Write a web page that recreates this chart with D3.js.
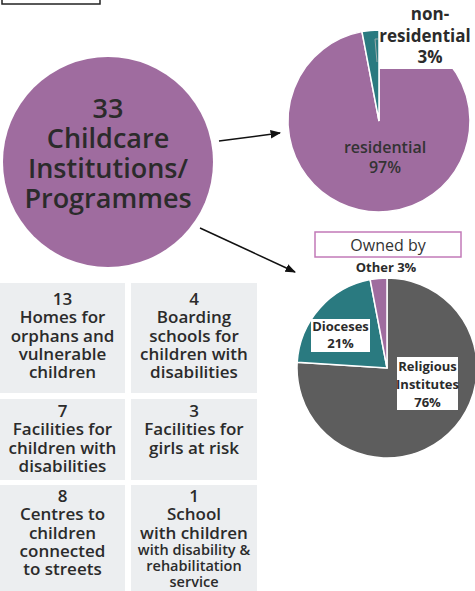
<!DOCTYPE html>
<html>
<head>
<meta charset="utf-8">
<script src="https://cdn.jsdelivr.net/npm/d3@7"></script>
<style>
  html, body { margin: 0; padding: 0; background: #fff; }
  svg { display: block; font-family: "Open Sans", sans-serif; }
</style>
</head>
<body>
<div id="chart"></div>
<script>
// data
var totalCount = 33;
var totalLines = ["33", "Childcare", "Institutions/", "Programmes"];

var typeLabels = ["residential", "non-residential"];
var typeValues = [97, 3];

var ownerLabels = ["Religious Institutes", "Dioceses", "Other"];
var ownerValues = [76, 21, 3];

var progCounts = [13, 4, 7, 3, 8, 1];
var progNames = [
  ["Homes for", "orphans and", "vulnerable", "children"],
  ["Boarding", "schools for", "children with", "disabilities"],
  ["Facilities for", "children with", "disabilities"],
  ["Facilities for", "girls at risk"],
  ["Centres to", "children", "connected", "to streets"],
  ["School", "with children", "with disability &", "rehabilitation", "service"]
];

var width = 475, height = 591;
var purple = "#9f6c9f", teal = "#2a7a80", grey = "#5d5d5d", ink = "#2b2b2b";

var svg = d3.select("#chart").append("svg")
    .attr("width", width)
    .attr("height", height);

svg.append("defs").append("marker")
    .attr("id", "arrow")
    .attr("viewBox", "0 0 10 10")
    .attr("refX", 9).attr("refY", 5)
    .attr("markerWidth", 7).attr("markerHeight", 7)
    .attr("orient", "auto")
    .append("path")
    .attr("d", "M0,1 L10,5 L0,9 z")
    .attr("fill", "#111");

// small title box cut off at top
svg.append("rect")
    .attr("x", 2).attr("y", -20)
    .attr("width", 98).attr("height", 24)
    .attr("fill", "#fff").attr("stroke", "#222").attr("stroke-width", 1.5);

// big circle
svg.append("circle")
    .attr("cx", 108).attr("cy", 162).attr("r", 105)
    .attr("fill", purple);

svg.append("text")
    .attr("text-anchor", "middle")
    .attr("fill", ink)
    .style("font-size", "27px").style("font-weight", 600)
    .selectAll("tspan")
    .data(totalLines)
    .enter().append("tspan")
    .attr("x", 108)
    .attr("y", function(d, i) { return 118 + i * 30; })
    .text(function(d) { return d; });

// arrows
svg.append("line")
    .attr("x1", 219).attr("y1", 141).attr("x2", 280).attr("y2", 133)
    .attr("stroke", "#111").attr("stroke-width", 1.5)
    .attr("marker-end", "url(#arrow)");
svg.append("line")
    .attr("x1", 200).attr("y1", 228).attr("x2", 295).attr("y2", 272)
    .attr("stroke", "#111").attr("stroke-width", 1.5)
    .attr("marker-end", "url(#arrow)");

var pie = d3.pie().sort(null).value(function(d) { return d; });

// residential pie
var typeColor = d3.scaleOrdinal().domain(typeLabels).range([purple, teal]);
var arc1 = d3.arc().innerRadius(0).outerRadius(91);
var p1 = svg.append("g").attr("transform", "translate(379,121)");
p1.selectAll("path")
    .data(pie(typeValues))
    .enter().append("path")
    .attr("d", arc1)
    .attr("fill", function(d, i) { return typeColor(typeLabels[i]); })
    .attr("stroke", "#fff").attr("stroke-width", 1.5);

svg.append("path")
    .attr("d", "M378,39 L375,39 L377,62")
    .attr("fill", "none").attr("stroke", "#9aa").attr("stroke-width", 1);

svg.append("rect")
    .attr("x", 379).attr("y", 0).attr("width", 96).attr("height", 69)
    .attr("fill", "#fff");

svg.append("text")
    .attr("text-anchor", "middle").attr("fill", ink)
    .style("font-size", "17px").style("font-weight", 700)
    .selectAll("tspan")
    .data(["non-", "residential", typeValues[1] + "%"])
    .enter().append("tspan")
    .attr("x", function(d, i) { return i == 1 ? 425 : 430; })
    .attr("y", function(d, i) { return 20 + i * 21.5; })
    .text(function(d) { return d; });

svg.append("text")
    .attr("text-anchor", "middle").attr("fill", "#333")
    .style("font-size", "16px").style("font-weight", 600)
    .selectAll("tspan")
    .data([typeLabels[0], typeValues[0] + "%"])
    .enter().append("tspan")
    .attr("x", 385)
    .attr("y", function(d, i) { return 153 + i * 20; })
    .text(function(d) { return d; });

// owned by box
svg.append("rect")
    .attr("x", 315).attr("y", 232).attr("width", 146).attr("height", 25)
    .attr("fill", "#fff").attr("stroke", "#c27ab8").attr("stroke-width", 1.5);
svg.append("text")
    .attr("x", 388).attr("y", 251)
    .attr("text-anchor", "middle").attr("fill", "#333")
    .style("font-size", "16px")
    .text("Owned by");

// ownership pie
var ownerColor = d3.scaleOrdinal().domain(ownerLabels).range([grey, teal, purple]);
var arc2 = d3.arc().innerRadius(0).outerRadius(90);
var p2 = svg.append("g").attr("transform", "translate(387,368)");
p2.selectAll("path")
    .data(pie(ownerValues))
    .enter().append("path")
    .attr("d", arc2)
    .attr("fill", function(d, i) { return ownerColor(ownerLabels[i]); })
    .attr("stroke", "#fff").attr("stroke-width", 1.5);

svg.append("text")
    .attr("x", 386).attr("y", 272)
    .attr("text-anchor", "middle").attr("fill", ink)
    .style("font-size", "13px").style("font-weight", 700)
    .text(ownerLabels[2] + " " + ownerValues[2] + "%");

svg.append("rect")
    .attr("x", 311).attr("y", 319).attr("width", 59).attr("height", 33)
    .attr("fill", "#fff");
svg.append("text")
    .attr("text-anchor", "middle").attr("fill", ink)
    .style("font-size", "13px").style("font-weight", 700)
    .selectAll("tspan")
    .data([ownerLabels[1], ownerValues[1] + "%"])
    .enter().append("tspan")
    .attr("x", 340.5)
    .attr("y", function(d, i) { return 331 + i * 17; })
    .text(function(d) { return d; });

svg.append("rect")
    .attr("x", 397).attr("y", 357).attr("width", 61).attr("height", 53)
    .attr("fill", "#fff");
svg.append("text")
    .attr("text-anchor", "middle").attr("fill", ink)
    .style("font-size", "13px").style("font-weight", 700)
    .selectAll("tspan")
    .data(ownerLabels[0].split(" ").concat([ownerValues[0] + "%"]))
    .enter().append("tspan")
    .attr("x", 427.5)
    .attr("y", function(d, i) { return 371 + i * 18; })
    .text(function(d) { return d; });

// programme boxes
var cols = [{x: 0, w: 125}, {x: 131, w: 126}];
var rows = [{y: 283, h: 110, base: 305}, {y: 399, h: 81, base: 417}, {y: 485, h: 110, base: 502}];

var boxes = svg.selectAll("g.prog")
    .data(progCounts)
    .enter().append("g")
    .attr("class", "prog");

boxes.append("rect")
    .attr("x", function(d, i) { return cols[i % 2].x; })
    .attr("y", function(d, i) { return rows[Math.floor(i / 2)].y; })
    .attr("width", function(d, i) { return cols[i % 2].w; })
    .attr("height", function(d, i) { return rows[Math.floor(i / 2)].h; })
    .attr("fill", "#eceef0");

boxes.append("text")
    .attr("text-anchor", "middle").attr("fill", ink)
    .style("font-weight", 600)
    .each(function(d, i) {
        var cx = cols[i % 2].x + cols[i % 2].w / 2;
        var base = rows[Math.floor(i / 2)].base;
        var lines = [String(d)].concat(progNames[i]);
        var y = base;
        d3.select(this).selectAll("tspan")
            .data(lines)
            .enter().append("tspan")
            .attr("x", cx)
            .attr("y", function(l, j) {
                if (j == 0) return base;
                var small = (i == 5 && j > 2);
                y += small ? 16 : 18.3;
                return y;
            })
            .style("font-size", function(l, j) { return (i == 5 && j > 2) ? "14.5px" : "17px"; })
            .text(function(l) { return l; });
    });
</script>
</body>
</html>
